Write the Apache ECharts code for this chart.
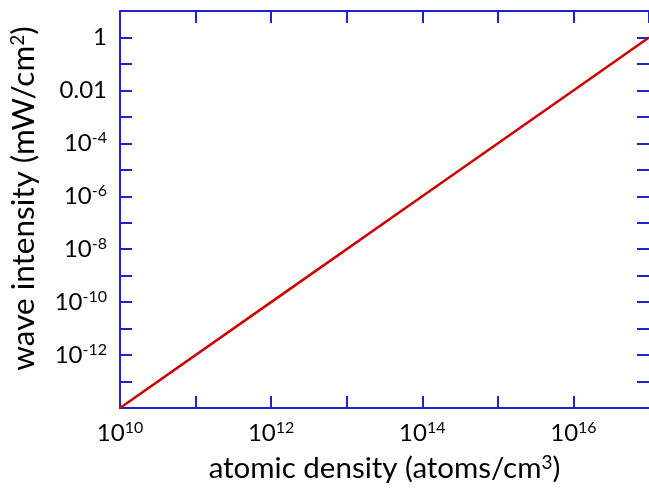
<!DOCTYPE html>
<html>
<head>
<meta charset="utf-8">
<script src="https://cdn.jsdelivr.net/npm/echarts@6/dist/echarts.min.js"></script>
<style>
  html, body { margin: 0; padding: 0; background: #fff; }
  #chart { width: 649px; height: 492px; }
</style>
</head>
<body>
<div id="chart"></div>
<script>
// atomic density (atoms/cm3) vs wave intensity (mW/cm2)
const density = [1e10, 1e12, 1e14, 1e16, 1e17]
const intensity = [1e-14, 1e-10, 1e-6, 1e-2, 1]

// exponents that carry a tick label
const xLabelExps = [10, 12, 14, 16]
const yLabelExps = [0, -2, -4, -6, -8, -10, -12]

const blue = '#2222cc'
const font = 'Lato'

const sup = { fontFamily: font, fontSize: 16, color: '#000', padding: [0, 0, 10, 0] }
const nameSup = { fontFamily: font, fontSize: 19, color: '#000', padding: [0, 0, 12, 0] }

function expOf(v) {
  return Math.round(Math.log10(v))
}

function xLabel(v) {
  const e = expOf(v)
  if (!xLabelExps.includes(e)) return ''
  return '10{sup|' + e + '}'
}

function yLabel(v) {
  const e = expOf(v)
  if (!yLabelExps.includes(e)) return ''
  if (e === 0) return '1'
  if (e === -2) return '0.01'
  return '10{sup|' + e + '}'
}

const axisCommon = {
  type: 'log',
  logBase: 10,
  interval: 1,
  axisLine: { show: true, onZero: false, lineStyle: { color: blue, width: 2 } },
  axisTick: { show: true, inside: true, length: 12, lineStyle: { color: blue, width: 2 } },
  splitLine: { show: false },
  minorTick: { show: false },
}

const chart = echarts.init(document.getElementById('chart'))
chart.setOption({
  animation: false,
  grid: { left: 120, top: 11, width: 531, height: 397, containLabel: false },
  xAxis: [
    {
      ...axisCommon,
      min: 1e10,
      max: 1e17,
      position: 'bottom',
      name: 'atomic density (atoms/cm{sup|3})',
      nameLocation: 'middle',
      nameGap: 45,
      nameTextStyle: {
        fontFamily: font, fontSize: 29.5, color: '#000',
        rich: { sup: nameSup },
      },
      axisLabel: {
        margin: 12,
        fontFamily: font, fontSize: 24, color: '#000',
        formatter: xLabel,
        rich: { sup: sup },
        showMinLabel: true,
        showMaxLabel: false,
      },
    },
    {
      ...axisCommon,
      min: 1e10,
      max: 1e17,
      position: 'top',
      axisLabel: { show: false },
    },
  ],
  yAxis: [
    {
      ...axisCommon,
      min: 1e-14,
      max: 10,
      position: 'left',
      name: 'wave intensity (mW/cm{sup|2})',
      nameLocation: 'middle',
      nameGap: 80,
      nameRotate: 90,
      nameTextStyle: {
        fontFamily: font, fontSize: 31.5, color: '#000',
        padding: [0, 0, 0, 22],
        rich: { sup: nameSup },
      },
      axisLabel: {
        margin: 13,
        fontFamily: font, fontSize: 24, color: '#000',
        formatter: yLabel,
        rich: { sup: sup },
      },
    },
    {
      ...axisCommon,
      axisLine: { show: false },
      min: 1e-14,
      max: 10,
      position: 'right',
      axisLabel: { show: false },
    },
  ],
  series: [
    {
      type: 'line',
      data: density.map((d, i) => [d, intensity[i]]),
      showSymbol: false,
      symbol: 'none',
      lineStyle: { color: '#cc0000', width: 2.5 },
    },
  ],
})
</script>
</body>
</html>
